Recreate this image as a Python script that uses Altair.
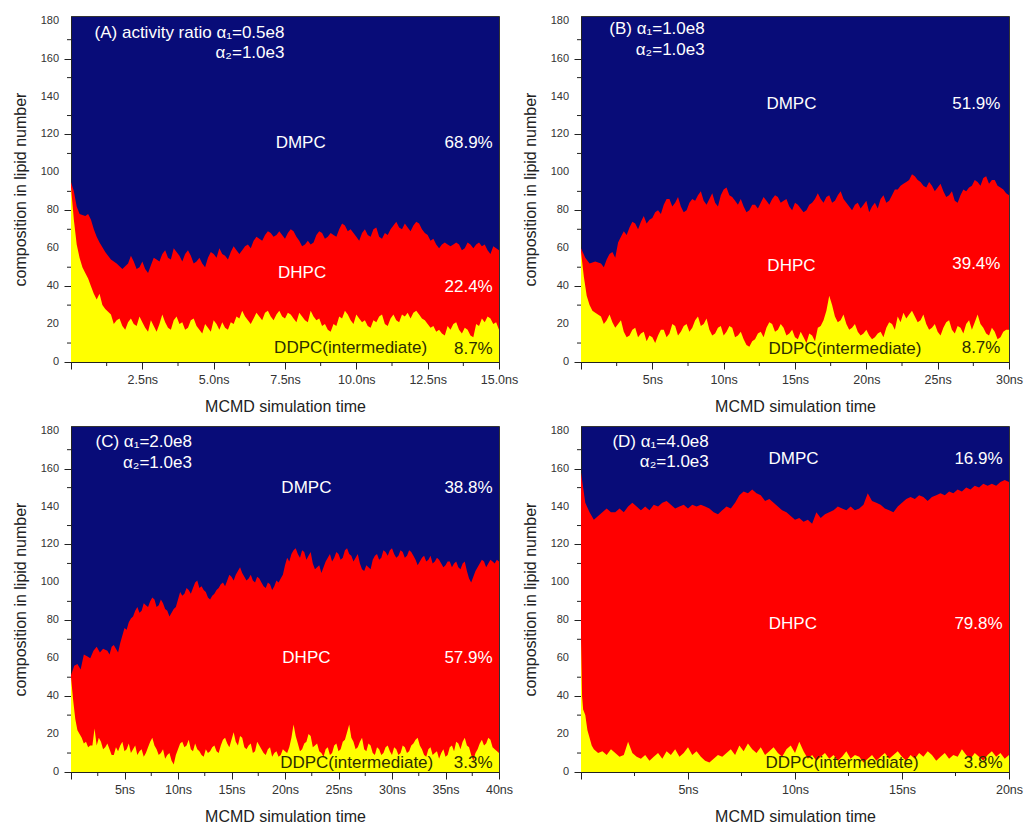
import altair as alt
import pandas as pd

NAVY = "#080c78"
RED = "#ff0000"
YELLOW = "#ffff00"
AXIS_COLOR = "#222222"
LABEL_COLOR = "#333333"
FONT = "Liberation Sans"


def grid(start, stop, step):
    n = int(round((stop - start) / step))
    return [round(start + i * step, 2) for i in range(n + 1)]


def densify(t, v, mids, start):
    """Insert the in-between readings `mids` after sample `start` onwards."""
    out_t, out_v = [], []
    for i in range(len(t)):
        out_t.append(t[i])
        out_v.append(v[i])
        k = i - start
        if 0 <= k < len(mids) and i + 1 < len(t):
            out_t.append(round((t[i] + t[i + 1]) / 2, 3))
            out_v.append(mids[k])
    return out_t, out_v


# ---------------- (A) a1 = 0.5e8, 0-15 ns ----------------
a_upper_t = [0, 0.1, 0.2, 0.3, 0.5, 0.6, 0.7, 0.8, 0.9, 1.0, 1.2, 1.4, 1.6, 1.8] + grid(2.0, 15.0, 0.2)
a_upper = [95, 90, 82, 78, 77, 78, 75, 70, 66, 63, 58, 54, 52, 49,
           52, 53, 50, 49, 51, 54, 57, 55, 60, 56, 57, 56, 53, 52, 55, 57, 60, 56, 58, 59,
           59, 62, 64, 65, 67, 68, 67, 67, 68, 69, 64, 62, 62, 67, 68, 66, 67, 70, 72, 70,
           66, 68, 67, 70, 66, 68, 70, 74, 70, 71, 72, 73, 68, 64, 62, 62, 62, 62, 62, 60,
           62, 62, 61, 59, 61, 59]
a_upper_mid = [56, 49, 53, 47, 55, 53, 59, 54, 58, 53, 59, 52, 55, 50, 58, 55, 57, 54, 61, 57,
               61, 60, 66, 64, 69, 66, 69, 65, 70, 66, 61, 64, 63, 69, 65, 68, 66, 73, 69, 68,
               64, 70, 66, 71, 65, 67, 72, 71, 73, 69, 74, 70, 67, 65, 60, 63, 61, 63, 59, 63,
               60, 63, 62, 57, 60]
a_lower_t = [0, 0.1, 0.2, 0.3, 0.4, 0.5, 0.6, 0.7, 0.8, 0.9, 1.0, 1.1, 1.2] + grid(1.4, 15.0, 0.2)
a_lower = [92, 75, 62, 55, 50, 47, 44, 40, 36, 33, 36, 30, 28,
           25, 22, 19, 21, 20, 24, 18, 22, 16, 25, 18, 22, 20, 17, 22, 19, 15, 18, 22, 17,
           18, 21, 24, 27, 22, 23, 24, 26, 24, 25, 24, 26, 23, 26, 22, 27, 22, 19, 17, 20,
           24, 27, 22, 25, 21, 19, 22, 24, 20, 23, 22, 25, 26, 26, 25, 22, 18, 16, 15, 19,
           20, 17, 18, 14, 20, 23, 24, 20, 17]
a_lower_mid = [20, 23, 17, 23, 19, 21, 16, 19, 20, 21, 17, 24, 21, 18, 23, 17, 20, 16, 20, 21,
               17, 20, 23, 24, 20, 26, 22, 27, 22, 27, 23, 25, 21, 24, 21, 24, 23, 20, 16, 19,
               23, 25, 20, 23, 22, 18, 21, 25, 19, 25, 21, 24, 23, 27, 23, 20, 19, 17, 14, 17,
               21, 15, 17, 13, 19, 21, 23, 21]

# ---------------- (B) a1 = 1.0e8, 0-30 ns ----------------
b_upper_t = [0, 0.3, 0.6, 1.0] + grid(1.4, 29.8, 0.4) + [30]
b_upper = [60, 55, 52, 53,
           52, 54, 58, 63, 69, 71, 73, 74, 73, 76, 80, 83, 86, 84, 82, 80, 86, 88, 85, 86,
           84, 88, 92, 87, 83, 82, 80, 83, 84, 85, 86, 87, 85, 82, 84, 81, 80, 84, 89, 84,
           88, 85, 90, 84, 80, 84, 83, 79, 84, 86, 84, 88, 91, 94, 96, 98, 95, 92, 93, 92,
           90, 88, 85, 88, 90, 93, 95, 97, 94, 96, 92, 89,
           88]
b_upper_mid = [50, 57, 55, 66, 67, 74, 70, 77, 75, 79, 78, 86, 82, 87, 79, 84, 85, 90, 83, 89,
               82, 91, 88, 85, 86, 79, 83, 81, 87, 83, 88, 84, 86, 80, 83, 79, 83, 86, 86, 87,
               84, 88, 86, 82, 83, 81, 85, 82, 81, 88, 85, 91, 93, 95, 99, 96, 93, 95, 90, 94,
               87, 90, 84, 91, 92, 96, 93, 98, 96, 93, 91]
b_lower_t = [0, 0.2, 0.4, 0.6, 0.8, 1.0] + grid(1.4, 29.8, 0.4) + [30]
b_lower = [58, 45, 35, 30, 27, 26,
           24, 22, 21, 20, 16, 14, 18, 15, 11, 13, 14, 17, 15, 19, 16, 20, 18, 24, 20, 17,
           15, 19, 16, 18, 14, 12, 8, 12, 16, 18, 20, 17, 18, 15, 13, 16, 10, 14, 18, 22,
           35, 24, 22, 20, 18, 16, 15, 14, 13, 16, 18, 20, 24, 26, 25, 24, 22, 20, 18, 16,
           18, 22, 15, 18, 20, 17, 25, 18, 14, 16, 13, 17,
           17]
b_lower_mid = [20, 25, 18, 22, 13, 17, 13, 16, 14, 10, 17, 13, 20, 14, 19, 16, 22, 19, 23, 14,
               18, 14, 19, 13, 16, 9, 11, 15, 13, 21, 16, 20, 14, 17, 12, 13, 15, 11, 19, 27,
               30, 21, 25, 17, 20, 14, 17, 12, 15, 13, 21, 17, 21, 23, 27, 21, 25, 17, 20, 14,
               21, 17, 19, 15, 22, 21, 20, 15, 18, 12, 16]

# ---------------- (C) a1 = 2.0e8, 0-40 ns ----------------
c_upper_t = [0, 0.3, 0.6, 0.9, 1.2, 1.5, 1.8, 2.1, 2.4, 2.7, 3.0] + grid(3.4, 39.8, 0.4) + [40]
c_upper = [51, 56, 57, 54, 62, 61, 60, 64, 66, 63, 65,
           64, 66, 65, 68, 76, 79, 82, 87, 85, 88, 90, 91, 88, 89, 85, 84, 87, 95, 94, 96,
           97, 101, 98, 95, 91, 94, 97, 100, 101, 103, 104, 108, 103, 102, 101, 103, 100, 97, 99, 98,
           100, 104, 113, 115, 118, 113, 116, 114, 110, 108, 105, 111, 115, 113, 115, 113, 118, 114, 113, 110,
           106, 108, 112, 115, 113, 116, 117, 115, 114, 116, 114, 116, 112, 111, 114, 112, 110, 113, 110, 109,
           111, 110, 108, 110, 106, 100, 106, 110, 111, 110, 111, 112,
           111]
c_upper_mid = [62, 67, 63, 72, 75, 81, 85, 84, 89, 87, 92, 87, 91, 86, 82, 86, 91, 93, 97, 94,
               100, 97, 96, 92, 93, 96, 99, 98, 104, 101, 106, 105, 101, 104, 100, 102, 98, 100, 96, 101,
               102, 109, 111, 117, 115, 117, 112, 116, 107, 109, 108, 113, 111, 116, 112, 117, 115, 111, 115, 107,
               109, 107, 114, 112, 117, 114, 118, 113, 117, 113, 117, 114, 109, 113, 111, 114, 111, 112, 108, 111,
               108, 111, 107, 111, 102, 103, 108, 112, 108, 112, 110]
c_lower_t = [0, 0.2, 0.4, 0.6, 0.8, 1.0, 1.2, 1.4, 1.6, 1.8, 2.0, 2.2] + grid(2.4, 39.6, 0.4) + [40]
c_lower = [50, 38, 28, 22, 20, 18, 15, 16, 13, 14, 14, 23,
           14, 16, 13, 12, 9, 11, 16, 12, 10, 14, 11, 8, 13, 18, 12, 10, 7, 10, 4, 12,
           16, 14, 12, 15, 11, 8, 10, 13, 11, 14, 18, 13, 21, 14, 18, 12, 15, 11, 14, 10,
           12, 8, 11, 9, 11, 13, 25, 15, 12, 16, 19, 14, 11, 8, 13, 10, 15, 12, 17, 25,
           16, 13, 18, 11, 14, 9, 12, 10, 14, 9, 12, 10, 13, 11, 15, 18, 12, 8, 13, 10,
           7, 12, 9, 14, 16, 12, 18, 13, 6, 12, 17, 15, 17, 12,
           10]
c_lower_mid = [18, 12, 15, 9, 13, 14, 11, 15, 12, 9, 12, 10, 16, 14, 9, 12, 9, 6, 9, 15,
               13, 17, 11, 12, 9, 12, 11, 14, 10, 17, 15, 17, 16, 19, 13, 14, 10, 16, 12, 9,
               13, 10, 8, 12, 10, 18, 19, 11, 15, 20, 13, 15, 10, 12, 9, 14, 11, 16, 21, 18,
               12, 16, 12, 15, 10, 13, 9, 13, 11, 13, 9, 14, 10, 14, 17, 14, 9, 12, 9, 11,
               10, 8, 13, 11, 15, 16, 14, 9, 10, 15, 14, 18, 13]

# ---------------- (D) a1 = 4.0e8, 0-20 ns ----------------
d_upper_t = [0, 0.1, 0.2, 0.4] + grid(0.6, 20.0, 0.2)
d_upper = [158, 150, 142, 137,
           133, 135, 137, 139, 137, 137, 139, 137, 140, 142, 140, 138, 140, 138, 141, 140,
           142, 143, 141, 139, 140, 141, 139, 141, 140, 141, 140, 139, 137, 136, 138, 140,
           139, 142, 146, 148, 147, 149, 147, 146, 143, 144, 142, 140, 138, 137, 135, 133,
           134, 132, 133, 131, 137, 134, 136, 137, 138, 140, 139, 138, 140, 138, 139, 141,
           147, 143, 142, 141, 139, 138, 137, 140, 142, 144, 145, 144, 146, 145, 143, 145,
           146, 147, 146, 148, 147, 149, 148, 150, 149, 151, 150, 152, 151, 152, 151, 153,
           154, 153]
d_lower_t = [0, 0.05, 0.1, 0.2, 0.3, 0.4, 0.5, 0.6] + grid(0.8, 20.0, 0.2)
d_lower = [70, 40, 33, 30, 22, 18, 14, 12,
           10, 11, 9, 12, 10, 8, 9, 16, 10, 8, 7, 9, 6, 8, 10, 7, 11, 9, 12, 8,
           10, 13, 9, 11, 8, 6, 5, 7, 9, 8, 10, 12, 9, 14, 11, 15, 12, 10, 13, 9,
           11, 13, 10, 8, 12, 14, 10, 16, 11, 7, 9, 6, 8, 10, 7, 9, 6, 8, 11, 7,
           9, 8, 5, 7, 9, 6, 8, 10, 7, 9, 11, 8, 6, 9, 7, 10, 8, 11, 9, 6,
           8, 10, 7, 9, 8, 12, 9, 7, 10, 8, 6, 9, 11, 8, 10, 7, 9]

a_upper_t, a_upper = densify(a_upper_t, a_upper, a_upper_mid, 14)
a_lower_t, a_lower = densify(a_lower_t, a_lower, a_lower_mid, 13)
b_upper_t, b_upper = densify(b_upper_t, b_upper, b_upper_mid, 4)
b_lower_t, b_lower = densify(b_lower_t, b_lower, b_lower_mid, 6)
c_upper_t, c_upper = densify(c_upper_t, c_upper, c_upper_mid, 11)
c_lower_t, c_lower = densify(c_lower_t, c_lower, c_lower_mid, 12)

PANELS = [
    dict(tmax=15, major=2.5, fmt=".1f",
         upper_t=a_upper_t, upper=a_upper, lower_t=a_lower_t, lower=a_lower,
         head=("(A) activity ratio α₁=0.5e8", "α₂=1.0e3"), head_t=7.48, head_v=(173.7, 163.2),
         names_t=(8.05, 8.1, 9.8), names_v=(115.4, 46.7, 7.5),
         pct=("68.9%", "22.4%", "8.7%"), pct_t=14.78, pct_v=(115.4, 39.3, 6.9)),
    dict(tmax=30, major=5, fmt="d",
         upper_t=b_upper_t, upper=b_upper, lower_t=b_lower_t, lower=b_lower,
         head=("(B) α₁=1.0e8", "α₂=1.0e3"), head_t=8.67, head_v=(175.8, 164.7),
         names_t=(14.75, 14.75, 18.5), names_v=(136.2, 50.7, 6.9),
         pct=("51.9%", "39.4%", "8.7%"), pct_t=29.4, pct_v=(136.2, 51.7, 7.4)),
    dict(tmax=40, major=5, fmt="d",
         upper_t=c_upper_t, upper=c_upper, lower_t=c_lower_t, lower=c_lower,
         head=("(C) α₁=2.0e8", "α₂=1.0e3"), head_t=11.3, head_v=(174.2, 163.0),
         names_t=(22.0, 22.0, 26.7), names_v=(149.8, 60.0, 4.8),
         pct=("38.8%", "57.9%", "3.3%"), pct_t=39.4, pct_v=(149.8, 60.0, 4.8)),
    dict(tmax=20, major=5, fmt="d",
         upper_t=d_upper_t, upper=d_upper, lower_t=d_lower_t, lower=d_lower,
         head=("(D) α₁=4.0e8", "α₂=1.0e3"), head_t=5.97, head_v=(174.2, 163.7),
         names_t=(9.93, 9.9, 12.2), names_v=(165.2, 78.1, 4.75),
         pct=("16.9%", "79.8%", "3.8%"), pct_t=19.7, pct_v=(165.2, 78.1, 4.75)),
]

NAMES = ["DMPC", "DHPC", "DDPC(intermediate)"]
NAME_COLORS = ["white", "white", "#2e2e00"]
Y_TICKS = grid(0, 180, 20)
Y_TOP = 182.5
W, H = 428, 346
MAJOR_TICK, MINOR_TICK = 7, 4
TEXT_SIZE = 17


def panel(p):
    tmax, major = p["tmax"], p["major"]
    xscale = alt.Scale(domain=[0, tmax], nice=False, zero=False)
    yscale = alt.Scale(domain=[0, Y_TOP], nice=False)
    xaxis = alt.Axis(
        values=grid(0, tmax, major),
        labelExpr=f"datum.value == 0 ? '' : format(datum.value, '{p['fmt']}') + 'ns'",
        tickSize=MAJOR_TICK, labelFlush=False, labelOverlap=False, grid=False,
        labelPadding=4, titlePadding=13,
    )
    # y tick labels are drawn as a text layer so that every one of them shows
    yaxis = alt.Axis(
        values=Y_TICKS, labels=False,
        tickSize=MAJOR_TICK, grid=False, titlePadding=35,
    )
    upper = pd.DataFrame({"t": p["upper_t"], "v": p["upper"]})
    lower = pd.DataFrame({"t": p["lower_t"], "v": p["lower"]})

    dhpc = alt.Chart(upper).mark_area(color=RED, interpolate="linear").encode(
        x=alt.X("t:Q", scale=xscale, axis=xaxis, title="MCMD simulation time"),
        y=alt.Y("v:Q", scale=yscale, axis=yaxis, title="composition in lipid number"),
    )
    ddpc = alt.Chart(lower).mark_area(color=YELLOW, interpolate="linear").encode(
        x="t:Q", y="v:Q"
    )

    # minor ticks halfway between the labelled ones
    x_minor = pd.DataFrame({"t": grid(major / 2, tmax - major / 2, major)})
    y_minor = pd.DataFrame({"v": grid(10, 170, 20)})
    x_minor_ticks = alt.Chart(x_minor).mark_rule(color=AXIS_COLOR, strokeWidth=1).encode(
        x="t:Q", y=alt.value(H), y2=alt.value(H + MINOR_TICK)
    )
    y_minor_ticks = alt.Chart(y_minor).mark_rule(color=AXIS_COLOR, strokeWidth=1).encode(
        y="v:Q", x=alt.value(-MINOR_TICK), x2=alt.value(0)
    )
    y_tick_labels = alt.Chart(
        pd.DataFrame({"v": Y_TICKS, "lab": [str(int(v)) for v in Y_TICKS]})
    ).mark_text(
        align="right", baseline="middle", font=FONT, fontSize=11, color=LABEL_COLOR
    ).encode(y="v:Q", x=alt.value(-(MAJOR_TICK + 5)), text="lab:N")

    names = pd.DataFrame({"t": p["names_t"], "v": p["names_v"], "text": NAMES, "c": NAME_COLORS})
    pcts = pd.DataFrame({"t": [p["pct_t"]] * 3, "v": p["pct_v"], "text": p["pct"], "c": NAME_COLORS})
    head = pd.DataFrame({"t": [p["head_t"]] * 2, "v": p["head_v"], "text": p["head"]})

    enc = dict(x="t:Q", y="v:Q", text="text:N")
    name_txt = alt.Chart(names).mark_text(
        align="center", baseline="middle", font=FONT, fontSize=TEXT_SIZE
    ).encode(color=alt.Color("c:N", scale=None), **enc)
    pct_txt = alt.Chart(pcts).mark_text(
        align="right", baseline="middle", font=FONT, fontSize=TEXT_SIZE
    ).encode(color=alt.Color("c:N", scale=None), **enc)
    head_txt = alt.Chart(head).mark_text(
        align="right", baseline="middle", font=FONT, fontSize=TEXT_SIZE, color="white"
    ).encode(**enc)

    return alt.layer(
        dhpc, ddpc, x_minor_ticks, y_minor_ticks, y_tick_labels, name_txt, pct_txt, head_txt
    ).properties(width=W, height=H)


chart = alt.concat(
    *[panel(p) for p in PANELS], columns=2, spacing={"row": 64, "column": 82}, bounds="flush"
).properties(
    padding={"left": 12, "top": 14, "right": 2, "bottom": 2},
    background="white",
).configure_view(
    fill=NAVY, stroke="#333333", strokeWidth=1
).configure_axis(
    domainColor=AXIS_COLOR, tickColor=AXIS_COLOR, labelColor=LABEL_COLOR,
    labelFont=FONT, titleFont=FONT, titleFontSize=16, titleFontWeight="normal",
    titleColor=AXIS_COLOR,
).configure_axisX(labelFontSize=12.5)

chart.save("out.html", embed_options={"renderer": "svg", "actions": False})
